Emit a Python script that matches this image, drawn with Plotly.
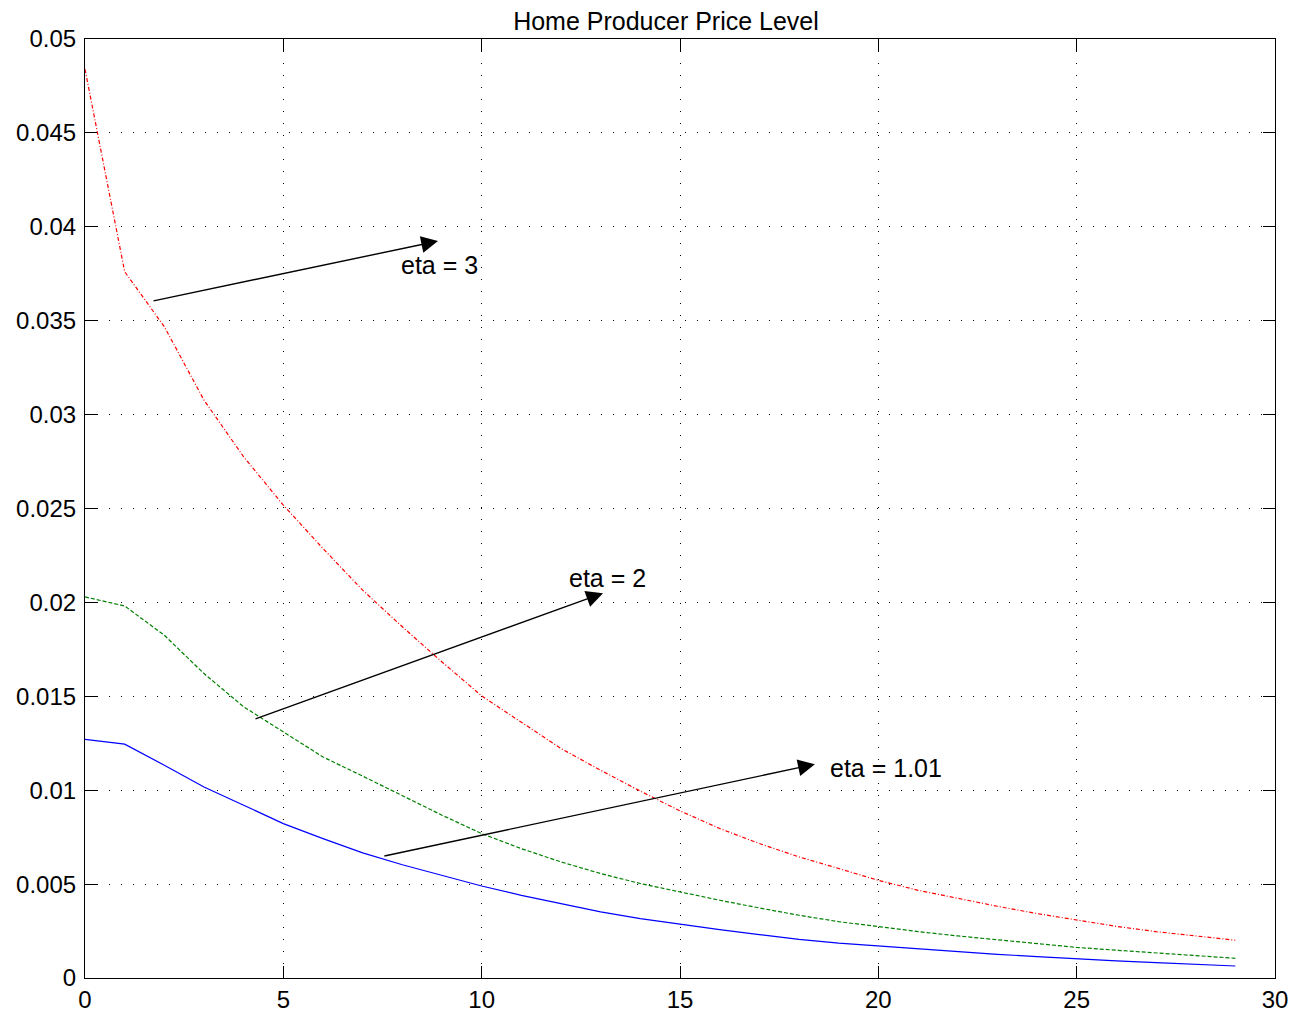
import plotly.graph_objects as go

periods = list(range(30))

eta_3 = [0.04839, 0.03761, 0.03468, 0.03077, 0.02775, 0.02518, 0.02287, 0.02065, 0.01870, 0.01683,
         0.01502, 0.01364, 0.01222, 0.01106, 0.00995, 0.00890, 0.00796, 0.00716, 0.00645, 0.00583,
         0.00520, 0.00467, 0.00423, 0.00382, 0.00343, 0.00307, 0.00275, 0.00247, 0.00224, 0.00201]

eta_2 = [0.02029, 0.01981, 0.01825, 0.01621, 0.01444, 0.01310, 0.01177, 0.01075, 0.00970, 0.00867,
         0.00769, 0.00689, 0.00618, 0.00556, 0.00503, 0.00458, 0.00414, 0.00373, 0.00334, 0.00300,
         0.00272, 0.00247, 0.00224, 0.00204, 0.00183, 0.00163, 0.00148, 0.00133, 0.00119, 0.00105]

eta_101 = [0.01271, 0.01245, 0.01133, 0.01017, 0.00920, 0.00822, 0.00742, 0.00666, 0.00603, 0.00547,
           0.00490, 0.00440, 0.00396, 0.00352, 0.00316, 0.00286, 0.00258, 0.00231, 0.00206, 0.00186,
           0.00170, 0.00155, 0.00141, 0.00126, 0.00114, 0.00101, 0.00091, 0.00082, 0.00073, 0.00064]

x_ticks = [0, 5, 10, 15, 20, 25, 30]
y_ticks = [0, 0.005, 0.01, 0.015, 0.02, 0.025, 0.03, 0.035, 0.04, 0.045, 0.05]
y_tick_labels = ["0", "0.005", "0.01", "0.015", "0.02", "0.025", "0.03", "0.035", "0.04", "0.045", "0.05"]

# annotation arrows: (label, tail_x, tail_y, head_x, head_y, text_x, text_y)
labels = ["eta = 3", "eta = 2", "eta = 1.01"]
tail_x = [1.69, 4.26, 7.51]
tail_y = [0.03604, 0.01377, 0.00648]
head_x = [8.90, 13.06, 18.40]
head_y = [0.03924, 0.02049, 0.01138]
text_x = [7.92, 12.15, 18.73]
text_y = [0.03796, 0.02129, 0.01118]

FONT = "Liberation Sans, Arial, Helvetica, sans-serif"

fig = go.Figure()
fig.add_trace(go.Scatter(x=periods, y=eta_101, mode="lines",
                         line=dict(color="#0000ff", width=1.2), showlegend=False))
fig.add_trace(go.Scatter(x=periods, y=eta_2, mode="lines",
                         line=dict(color="#008000", width=1.2, dash="4px,2px"), showlegend=False))
fig.add_trace(go.Scatter(x=periods, y=eta_3, mode="lines",
                         line=dict(color="#ff0000", width=1.2, dash="4px,2px,1px,2px"), showlegend=False))

annotations = []
for lab, tx, ty, hx, hy, lx, ly in zip(labels, tail_x, tail_y, head_x, head_y, text_x, text_y):
    annotations.append(dict(x=hx, y=hy, ax=tx, ay=ty, xref="x", yref="y", axref="x", ayref="y",
                            text="", showarrow=True, arrowhead=2, arrowsize=2.4, arrowwidth=1.4,
                            arrowcolor="black", standoff=0))
    annotations.append(dict(x=lx, y=ly, xref="x", yref="y", text=lab, showarrow=False,
                            xanchor="left", yanchor="middle",
                            font=dict(family=FONT, size=25, color="black")))

axis_common = dict(showline=True, linecolor="black", linewidth=1.2, mirror="ticks",
                   ticks="inside", ticklen=12, tickcolor="black", tickwidth=1.2,
                   showgrid=True, gridcolor="black", gridwidth=1, griddash="1px,11px",
                   zeroline=False, automargin=False,
                   tickfont=dict(family=FONT, size=24, color="black"))

W, H = 1301, 1010
fig.update_layout(
    width=W, height=H,
    margin=dict(l=77, r=34, t=31, b=40),
    plot_bgcolor="white", paper_bgcolor="white",
    title=dict(text="Home Producer Price Level", x=658 / W, xanchor="center",
               y=1 - 4 / H, yanchor="top", automargin=False,
               font=dict(family=FONT, size=25, color="black")),
    xaxis=dict(range=[0, 30], tickvals=x_ticks, ticktext=[str(v) for v in x_ticks], **axis_common),
    yaxis=dict(range=[0, 0.05], tickvals=y_ticks, ticktext=y_tick_labels,
               ticklabelstandoff=3, **axis_common),
    annotations=annotations,
)

fig.write_html("out.html")
